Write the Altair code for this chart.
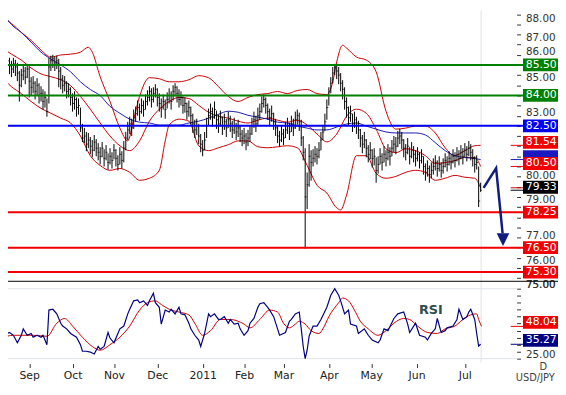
import json
import altair as alt
import pandas as pd

# ---------------- daily bars (bar index = trading day) ----------------
close = [
    85.60, 85.75, 85.50, 85.70, 85.45, 85.30, 85.55, 85.40, 85.10, 84.50,
    85.00, 85.20, 84.90, 85.30, 84.70, 84.40, 84.60, 84.20, 84.50, 84.00,
    84.10, 83.70, 83.90, 83.20, 85.40, 85.70, 85.80, 85.60, 85.70, 85.20,
    84.80, 84.50, 84.60, 84.20, 84.30, 83.90, 83.60, 83.80, 83.40, 83.50,
    82.40, 81.90, 82.00, 81.60, 81.80, 81.50, 81.30, 81.70, 81.40, 81.20,
    81.00, 81.40, 80.90, 81.20, 80.70, 81.00, 80.80, 81.30, 80.90, 80.60,
    81.10, 80.80, 81.40, 81.90, 82.30, 82.60, 82.40, 82.90, 83.10, 83.40,
    83.20, 83.50, 83.30, 83.70, 83.90, 84.20, 83.80, 84.10, 84.30, 83.90,
    83.60, 83.40, 83.70, 83.30, 83.80, 84.00, 83.70, 84.20, 84.40, 84.10,
    83.80, 83.90, 83.50, 83.60, 83.20, 83.40, 83.00, 82.60, 82.30, 82.50,
    82.00, 81.60, 81.30, 81.80, 82.50, 83.00, 83.20, 82.90, 83.30, 82.80,
    82.60, 82.90, 82.50, 82.70, 82.40, 82.80, 82.60, 82.30, 82.50, 82.20,
    82.40, 82.10, 81.90, 82.00, 81.70, 81.90, 82.10, 82.50, 82.80, 82.60,
    83.00, 83.20, 83.60, 83.80, 83.50, 83.20, 82.90, 83.10, 82.70, 82.40,
    82.00, 81.80, 82.10, 81.90, 82.30, 82.50, 82.20, 82.60, 82.40, 82.80,
    83.00, 82.70, 81.90, 81.20, 79.00, 79.60, 81.00, 80.70, 80.90, 81.10,
    81.00, 81.30, 81.80, 82.20, 82.70, 83.40, 84.00, 84.60, 85.10, 85.40,
    85.20, 85.00, 84.60, 84.30, 83.70, 83.40, 82.90, 83.10, 82.60, 82.80,
    82.50, 82.30, 81.90, 81.60, 81.80, 81.40, 81.10, 81.30, 80.90, 81.00,
    80.30, 80.60, 81.00, 80.70, 81.10, 80.90, 81.20, 81.00, 81.40, 81.60,
    81.50, 81.90, 82.00, 81.80, 81.40, 81.20, 81.50, 81.00, 81.30, 81.10,
    80.90, 81.10, 80.80, 81.00, 80.50, 80.20, 80.40, 80.10, 80.30, 80.50,
    80.70, 80.40, 80.60, 80.30, 80.50, 80.80, 80.60, 80.90, 80.70, 81.00,
    80.80, 81.10, 80.90, 81.20, 81.00, 81.30, 81.10, 81.40, 81.20, 80.90,
    80.60, 80.70, 78.80, 79.33,
]
high = [
    86.10, 86.00, 85.90, 86.05, 85.85, 85.70, 85.85, 85.75, 85.60, 85.20,
    85.30, 85.50, 85.40, 85.55, 85.40, 84.90, 84.95, 84.70, 84.85, 84.60,
    84.45, 84.30, 84.20, 83.85, 85.85, 85.95, 86.00, 85.90, 85.95, 85.80,
    85.40, 85.00, 84.95, 84.70, 84.60, 84.40, 84.10, 84.20, 83.90, 83.85,
    83.40, 82.60, 82.40, 82.20, 82.15, 81.95, 81.80, 82.05, 81.85, 81.65,
    81.45, 81.70, 81.35, 81.55, 81.15, 81.40, 81.20, 81.60, 81.35, 81.05,
    81.45, 81.25, 81.75, 82.20, 82.70, 82.95, 82.85, 83.30, 83.45, 83.75,
    83.60, 83.85, 83.75, 84.05, 84.25, 84.45, 84.35, 84.40, 84.55, 84.35,
    84.10, 83.85, 84.05, 83.80, 84.15, 84.35, 84.20, 84.50, 84.60, 84.45,
    84.30, 84.20, 83.95, 83.90, 83.65, 83.75, 83.45, 83.10, 82.80, 82.85,
    82.60, 82.10, 81.80, 82.20, 82.90, 83.35, 83.60, 83.40, 83.70, 83.25,
    83.05, 83.25, 82.95, 83.10, 82.85, 83.20, 83.00, 82.75, 82.90, 82.65,
    82.80, 82.55, 82.30, 82.40, 82.15, 82.30, 82.50, 82.90, 83.20, 83.00,
    83.40, 83.60, 83.95, 84.05, 83.90, 83.60, 83.35, 83.50, 83.15, 82.85,
    82.50, 82.25, 82.50, 82.35, 82.70, 82.90, 82.65, 83.00, 82.85, 83.20,
    83.30, 83.15, 82.80, 82.00, 81.40, 80.20, 81.60, 81.30, 81.35, 81.50,
    81.40, 81.70, 82.20, 82.55, 83.10, 83.80, 84.40, 84.90, 85.40, 85.55,
    85.50, 85.40, 85.10, 84.75, 84.40, 83.90, 83.45, 83.50, 83.10, 83.20,
    82.95, 82.75, 82.35, 82.05, 82.20, 81.85, 81.55, 81.70, 81.35, 81.40,
    80.95, 81.00, 81.40, 81.15, 81.50, 81.30, 81.60, 81.45, 81.80, 82.00,
    81.95, 82.25, 82.35, 82.20, 81.85, 81.60, 81.90, 81.45, 81.70, 81.50,
    81.30, 81.45, 81.20, 81.35, 81.00, 80.65, 80.80, 80.55, 80.70, 80.90,
    81.05, 80.80, 81.00, 80.70, 80.90, 81.15, 81.00, 81.25, 81.10, 81.35,
    81.20, 81.45, 81.30, 81.55, 81.40, 81.65, 81.50, 81.75, 81.60, 81.35,
    81.00, 81.05, 80.50, 79.70,
]
low = [
    85.20, 85.30, 85.10, 85.25, 85.05, 84.90, 85.10, 84.95, 84.70, 83.70,
    84.40, 84.75, 84.55, 84.85, 83.90, 84.00, 84.10, 83.80, 84.00, 83.60,
    83.70, 83.30, 83.40, 82.95, 83.60, 85.20, 85.35, 85.20, 85.30, 84.40,
    84.30, 84.10, 84.20, 83.85, 83.90, 83.50, 83.20, 83.30, 82.95, 83.05,
    82.20, 81.70, 81.65, 81.25, 81.40, 81.10, 80.95, 81.25, 81.00, 80.80,
    80.60, 80.95, 80.50, 80.80, 80.35, 80.60, 80.40, 80.85, 80.50, 80.30,
    80.60, 80.40, 80.70, 81.30, 81.80, 82.10, 82.00, 82.35, 82.70, 83.00,
    82.75, 83.10, 82.95, 83.30, 83.50, 83.70, 83.40, 83.65, 83.90, 83.45,
    83.20, 82.90, 83.30, 82.85, 83.35, 83.60, 83.30, 83.75, 83.95, 83.65,
    83.40, 83.50, 83.10, 83.15, 82.80, 82.95, 82.55, 82.15, 81.90, 82.05,
    81.60, 81.20, 81.00, 81.30, 81.90, 82.50, 82.80, 82.45, 82.85, 82.35,
    82.15, 82.50, 82.05, 82.30, 81.95, 82.40, 82.20, 81.90, 82.10, 81.80,
    81.95, 81.70, 81.50, 81.60, 81.30, 81.50, 81.70, 82.05, 82.40, 82.20,
    82.55, 82.80, 83.15, 83.40, 83.10, 82.80, 82.50, 82.70, 82.30, 82.00,
    81.65, 81.45, 81.70, 81.55, 81.90, 82.10, 81.80, 82.20, 82.00, 82.35,
    82.55, 82.25, 81.50, 80.80, 76.45, 78.40, 79.50, 79.80, 80.50, 80.70,
    80.60, 80.90, 81.30, 81.80, 82.25, 82.80, 83.50, 84.10, 84.60, 85.00,
    84.80, 84.55, 84.20, 83.80, 83.30, 82.90, 82.50, 82.70, 82.20, 82.40,
    82.10, 81.85, 81.45, 81.15, 81.40, 80.95, 80.70, 80.85, 80.45, 80.55,
    79.70, 80.15, 80.60, 80.30, 80.70, 80.50, 80.80, 80.55, 81.00, 81.20,
    81.10, 81.45, 81.60, 81.35, 80.95, 80.80, 81.10, 80.60, 80.90, 80.70,
    80.50, 80.75, 80.40, 80.65, 80.10, 79.80, 80.00, 79.70, 79.90, 80.10,
    80.30, 80.00, 80.25, 79.95, 80.15, 80.45, 80.25, 80.55, 80.35, 80.65,
    80.45, 80.75, 80.55, 80.85, 80.60, 80.95, 80.75, 81.00, 80.80, 80.50,
    80.20, 80.35, 78.50, 79.25,
]
bar = list(range(len(close)))

# ---------------- month ticks (bar index of the month start) ----------------
month_names = ["Sep", "Oct", "Nov", "Dec", "2011", "Feb", "Mar", "Apr", "May", "Jun", "Jul"]
month_pos = [14, 36, 57, 79, 102, 123, 143, 166, 187.5, 210.5, 235]

# ---------------- Bollinger bands & moving average ----------------
bb_up_i = [0, 5, 10, 15, 20, 25, 30, 35, 40, 44, 46, 50, 55, 60, 64, 67, 70, 75, 80, 85, 90, 95,
           100, 105, 110, 115, 120, 125, 130, 135, 140, 145, 150, 155, 160, 165, 168, 170, 173,
           175, 180, 185, 190, 195, 200, 205, 210, 215, 220, 225, 230, 235, 240, 243]
bb_up_v = [87.83, 87.54, 87.10, 86.71, 86.23, 85.89, 85.99, 86.03, 86.13, 86.37, 86.13, 84.92,
           83.70, 82.39, 81.76, 82.83, 83.95, 84.87, 84.82, 84.67, 84.67, 84.77, 84.97, 84.87,
           84.43, 83.95, 83.70, 83.90, 84.04, 84.09, 84.19, 84.09, 84.24, 84.29, 84.09, 84.04,
           84.67, 85.65, 86.47, 86.33, 85.89, 85.74, 85.16, 83.22, 82.34, 82.39, 82.49, 82.49,
           82.15, 81.42, 81.03, 81.28, 81.52, 81.54]
bb_mid_i = [0, 5, 10, 15, 20, 25, 30, 35, 40, 45, 50, 55, 60, 65, 70, 75, 80, 85, 90, 95, 100,
            105, 110, 115, 120, 125, 130, 135, 140, 145, 150, 155, 160, 165, 170, 175, 180, 185,
            190, 195, 200, 205, 210, 215, 220, 225, 230, 235, 240, 243]
bb_mid_v = [86.37, 86.03, 85.74, 85.35, 85.06, 84.92, 84.77, 84.48, 83.95, 83.32, 82.64, 82.00,
            81.52, 81.28, 81.76, 82.73, 83.32, 83.70, 83.90, 83.85, 83.51, 83.17, 82.98, 82.88,
            82.73, 82.64, 82.78, 82.88, 82.78, 82.68, 82.78, 82.54, 82.10, 81.71, 82.10, 82.98,
            83.32, 83.12, 82.34, 81.37, 81.18, 81.37, 81.28, 81.03, 80.65, 80.69, 80.79, 80.94,
            80.94, 80.50]
bb_low_i = [0, 5, 10, 15, 20, 25, 30, 35, 40, 45, 50, 55, 60, 65, 70, 75, 80, 83, 85, 90, 95,
            100, 105, 110, 115, 120, 125, 130, 135, 140, 145, 150, 155, 160, 165, 170, 172, 175,
            180, 185, 190, 195, 200, 205, 210, 215, 220, 225, 230, 235, 240, 243]
bb_low_v = [84.92, 84.43, 84.09, 83.70, 83.36, 83.12, 82.88, 82.64, 82.00, 81.03, 80.55, 80.31,
            80.40, 80.21, 79.82, 79.92, 80.31, 81.76, 82.54, 82.83, 82.73, 81.52, 81.28, 81.42,
            81.57, 81.76, 81.76, 81.47, 81.42, 81.47, 81.52, 81.42, 80.55, 79.58, 79.19, 78.46,
            78.36, 79.09, 81.03, 81.03, 80.16, 79.92, 80.01, 80.21, 80.31, 80.21, 79.82, 79.92,
            80.06, 79.97, 79.92, 79.45]
ma_i = [0, 5, 10, 15, 20, 25, 30, 35, 40, 45, 50, 55, 60, 65, 70, 75, 80, 85, 90, 95, 100, 105,
        110, 115, 120, 125, 130, 135, 140, 145, 150, 155, 160, 165, 170, 175, 180, 185, 190,
        195, 200, 205, 210, 215, 220, 225, 230, 235, 240, 243]
ma_v = [88.17, 87.49, 87.10, 86.62, 86.13, 85.79, 85.50, 85.16, 84.67, 84.29, 83.99, 83.46,
        83.12, 82.83, 82.68, 82.64, 82.54, 82.54, 82.54, 82.64, 82.73, 82.88, 83.07, 83.22,
        83.17, 83.02, 82.93, 82.83, 82.68, 82.64, 82.49, 82.39, 82.30, 82.30, 82.44, 82.59,
        82.64, 82.49, 82.34, 82.20, 82.15, 82.15, 82.15, 82.05, 81.67, 81.28, 81.03, 80.94,
        80.89, 80.84]

# ---------------- RSI and its average ----------------
rsi_i = [0, 1, 3, 4, 6, 8, 10, 11, 13, 15, 16, 18, 20, 21, 23, 24, 26, 28, 30, 31, 33, 35, 38,
         40, 41, 43, 45, 47, 49, 50, 52, 54, 55, 57, 59, 60, 62, 64, 65, 67, 69, 70, 72, 74, 75,
         77, 78, 80, 81, 83, 85, 86, 88, 90, 91, 93, 95, 96, 98, 100, 101, 103, 105, 106, 108,
         110, 111, 113, 115, 116, 118, 120, 121, 123, 125, 126, 128, 130, 131, 133, 135, 136,
         138, 140, 141, 144, 146, 147, 149, 151, 152, 153, 154, 155, 156, 158, 160, 162, 165,
         167, 169, 171, 172, 174, 176, 177, 180, 181, 184, 186, 188, 191, 192, 194, 196, 199,
         201, 204, 206, 207, 210, 212, 215, 216, 218, 220, 221, 223, 225, 226, 229, 231, 232,
         234, 236, 237, 238, 240, 241, 242, 243]
rsi_v = [45.0, 47.0, 43.0, 43.7, 41.7, 36.3, 41.7, 46.3, 41.7, 43.0, 40.3, 41.7, 40.3, 41.7,
         35.0, 59.7, 60.3, 57.0, 50.3, 48.3, 46.3, 43.0, 40.3, 35.0, 30.3, 30.3, 29.7, 28.3,
         33.7, 31.7, 33.7, 43.7, 39.7, 36.3, 43.0, 46.3, 48.3, 57.0, 60.3, 66.3, 67.0, 65.0,
         66.3, 63.0, 66.3, 71.7, 65.0, 61.7, 49.7, 59.7, 58.3, 60.3, 57.0, 61.7, 57.0, 56.3,
         50.3, 46.3, 41.7, 38.3, 33.7, 43.0, 57.0, 55.0, 57.0, 53.0, 53.0, 55.0, 50.3, 53.0,
         49.7, 50.3, 46.3, 41.7, 45.0, 50.3, 53.7, 61.7, 64.3, 65.0, 61.7, 59.7, 55.0, 46.3,
         41.7, 43.7, 51.7, 53.0, 57.0, 58.3, 46.3, 33.7, 25.0, 31.0, 41.0, 48.3, 48.3, 53.0,
         61.7, 70.3, 75.0, 70.3, 66.3, 57.0, 59.7, 49.7, 48.3, 43.0, 46.3, 41.7, 38.3, 36.3,
         38.3, 46.3, 45.0, 53.7, 57.0, 58.3, 49.7, 43.7, 50.3, 41.7, 40.3, 38.3, 43.0, 46.3,
         53.7, 43.7, 45.0, 47.0, 48.3, 53.0, 60.3, 53.0, 55.0, 58.3, 60.3, 53.0, 43.0, 34.0,
         35.27]
rsima_i = [0, 6, 16, 23, 28, 32, 36, 41, 46, 50, 55, 60, 65, 70, 74, 78, 81, 85, 90, 95, 98,
           102, 106, 111, 116, 123, 126, 131, 136, 140, 143, 146, 149, 151, 154, 157, 161, 163,
           166, 171, 173, 176, 179, 182, 186, 191, 195, 199, 204, 207, 211, 216, 221, 225, 230,
           234, 238, 241, 242, 243.5]
rsima_v = [39.7, 41.7, 41.7, 41.0, 50.3, 53.7, 48.3, 40.3, 33.7, 31.0, 35.0, 40.3, 48.3, 59.7,
           65.0, 66.3, 63.7, 60.3, 58.3, 56.3, 50.3, 41.7, 45.0, 53.0, 53.0, 49.7, 47.0, 53.0,
           59.7, 58.3, 50.3, 47.0, 49.7, 51.7, 49.7, 45.0, 43.0, 46.3, 55.0, 65.0, 68.3, 66.3,
           59.7, 51.7, 46.3, 41.7, 45.0, 50.3, 53.7, 53.0, 48.3, 43.7, 43.0, 46.3, 48.3, 53.0,
           56.3, 57.0, 53.0, 48.04]

# ---------------- support / resistance levels and last values ----------------
levels = [85.50, 84.00, 82.50, 78.25, 76.50, 75.30]
level_colors = ["#008000", "#008000", "#0000f0", "#f00000", "#f00000", "#f00000"]
last_vals = [79.45, 80.84, 80.50, 81.54, 79.33]          # lower BB, MA, mid BB, upper BB, close
last_colors = ["#d00000", "#1a1ac0", "#f00000", "#f00000", "#000000"]
last_boxed = [False, True, True, True, True]
last_text = ["", "", "80.50", "81.54", "79.33"]           # MA box text is hidden in the original
rsi_last = [48.04, 35.27]
rsi_last_colors = ["#f00000", "#000080"]

arrow_i = [244.5, 250.85, 254.15]
arrow_p = [79.45, 80.42, 77.2]
arrow_head_i = [254.35]
arrow_head_p = [76.9]
today_i = [243.25]

price_ticks = [75.0, 75.5, 76.0, 76.5, 77.0, 77.5, 78.0, 78.5, 79.0, 79.5, 80.0, 80.5, 81.0,
               81.5, 82.0, 82.5, 83.0, 83.5, 84.0, 84.5, 85.0, 85.5, 86.0, 86.5, 87.0, 87.5, 88.0]
price_labelled = [75, 76, 77, 79, 80, 83, 85, 86, 87, 88]   # the others sit under value boxes
# small vertical nudges of axis labels (px) so they sit between the value boxes, as drawn
label_nudge_v = [88, 87, 86, 85, 83, 80, 79, 77, 76, 75]
label_nudge_px = [4, 3, -3, 2, -3, -1, 3, -2, 2.5, 7]
rsi_ticks = [25, 30, 35, 40, 45, 50, 55, 60, 65, 70, 75]
rsi_labelled = [25, 75]
rsi_grid = [25, 75]

# ---------------- scales & axes ----------------
FONT = "DejaVu Sans"
W, H = 516, 357
XS = alt.Scale(domain=[3.25, 261.25], nice=False, zero=False)
PS = alt.Scale(domain=[74.87, 88.17], range=[274, 0], nice=False, zero=False)
RS = alt.Scale(domain=[22.18, 79.93], range=[357, 275], nice=False, zero=False)

BOX = "M-1,-0.361L1,-0.361L1,0.361L-1,0.361Z"
BOX_UP3 = "M-1,-0.528L1,-0.528L1,0.194L-1,0.194Z"
BOX_UP4 = "M-1,-0.583L1,-0.583L1,0.139L-1,0.139Z"

price_axis = alt.Axis(
    orient="right", values=price_ticks, domain=False, grid=False,
    tickSize=4, tickColor="#333333", labelColor="#333333", labelFont=FONT,
    labelFontSize=10.5, labelPadding=5, labelOverlap=False, title=None,
    labelOffset={"condition": [{"test": f"datum.value == {v}", "value": px}
                               for v, px in zip(label_nudge_v, label_nudge_px)],
                 "value": 0},
    labelExpr="indexof(" + json.dumps(price_labelled) + ", datum.value) >= 0 ? format(datum.value, '.2f') : ''")
rsi_axis = alt.Axis(
    orient="right", values=rsi_ticks, domain=False, grid=False,
    tickSize=4, tickColor="#333333", labelColor="#333333", labelFont=FONT,
    labelFontSize=10.5, labelPadding=5, labelOverlap=False, title=None, labelOffset=-4,
    labelExpr="indexof(" + json.dumps(rsi_labelled) + ", datum.value) >= 0 ? format(datum.value, '.2f') : ''")
x_axis = alt.Axis(
    orient="bottom", values=month_pos, domain=False, grid=False, tickSize=4,
    offset=1, tickColor="#333333", labelColor="#222222", labelFont=FONT,
    labelFontSize=11, labelPadding=2, labelOverlap=False, labelFlush=False, title=None,
    labelExpr=json.dumps(month_names) + "[indexof(" + json.dumps(month_pos) + ", datum.value)]")


def X(f):
    return alt.X(f, scale=XS, axis=x_axis)


def YP(f):
    return alt.Y(f, scale=PS, axis=price_axis)


def YR(f):
    return alt.Y(f, scale=RS, axis=rsi_axis)


bars_df = pd.DataFrame({"i": bar, "h": high, "l": low, "c": close})
bands_df = pd.concat([
    pd.DataFrame({"i": bb_up_i, "v": bb_up_v, "s": "up"}),
    pd.DataFrame({"i": bb_mid_i, "v": bb_mid_v, "s": "mid"}),
    pd.DataFrame({"i": bb_low_i, "v": bb_low_v, "s": "low"}),
])
ma_df = pd.DataFrame({"i": ma_i, "v": ma_v})
lev_df = pd.DataFrame({"v": levels, "col": level_colors, "t": [f"{v:.2f}" for v in levels]})
last_df = pd.DataFrame({"v": last_vals, "col": last_colors, "t": last_text, "boxed": last_boxed})
boxed_df = last_df[last_df["boxed"]]
text_df = last_df[last_df["t"] != ""]
rsi_df = pd.DataFrame({"i": rsi_i, "v": rsi_v})
rsima_df = pd.DataFrame({"i": rsima_i, "v": rsima_v})
rsil_df = pd.DataFrame({"v": rsi_last, "col": rsi_last_colors, "t": [f"{v:.2f}" for v in rsi_last]})
arrow_df = pd.DataFrame({"i": arrow_i, "p": arrow_p, "o": [0, 1, 2]})
head_df = pd.DataFrame({"i": arrow_head_i, "p": arrow_head_p})
today_df = pd.DataFrame({"i": today_i})

# ---------------- price panel ----------------
today = alt.Chart(today_df).mark_rule(color="#dde3ea", strokeWidth=1).encode(
    x=X("i:Q"), y=alt.value(0), y2=alt.value(H))
bands = alt.Chart(bands_df).mark_line(color="#c80000", strokeWidth=1, interpolate="monotone").encode(
    x=X("i:Q"), y=YP("v:Q"), detail="s:N")
ma = alt.Chart(ma_df).mark_line(color="#1a1ab4", strokeWidth=1, interpolate="monotone").encode(
    x=X("i:Q"), y=YP("v:Q"))
bars = alt.Chart(bars_df).mark_rule(color="black", strokeWidth=1).encode(
    x=X("i:Q"), y=YP("l:Q"), y2="h:Q")
ticks = alt.Chart(bars_df).mark_tick(color="black", orient="horizontal", size=2, thickness=1,
                                     xOffset=0.5).encode(
    x=X("i:Q"), y=YP("c:Q"))
lev_lines = alt.Chart(lev_df).mark_rule(strokeWidth=2).encode(
    y=YP("v:Q"), x=alt.value(0), x2=alt.value(523), color=alt.Color("col:N", scale=None))
sep = alt.Chart(today_df).mark_rule(color="black", strokeWidth=1).encode(
    y=alt.value(274.5), x=alt.value(0), x2=alt.value(558))
stubs = alt.Chart(last_df).mark_rule(strokeWidth=1).encode(
    y=YP("v:Q"), x=alt.value(510), x2=alt.value(523), color=alt.Color("col:N", scale=None))
lev_box = alt.Chart(lev_df).mark_point(shape=BOX, size=1296, filled=True, opacity=1,
                                       strokeWidth=0).encode(
    y=YP("v:Q"), x=alt.value(540.5), color=alt.Color("col:N", scale=None))
lev_txt = alt.Chart(lev_df).mark_text(color="white", font=FONT, fontSize=11, align="center",
                                      baseline="middle").encode(
    y=YP("v:Q"), x=alt.value(541), text="t:N")
last_box = alt.Chart(boxed_df).mark_point(shape=BOX_UP3, size=1296, filled=True, opacity=1,
                                          strokeWidth=0).encode(
    y=YP("v:Q"), x=alt.value(540.5), color=alt.Color("col:N", scale=None))
last_txt = alt.Chart(text_df).mark_text(color="white", font=FONT, fontSize=11, align="center",
                                        baseline="middle", dy=-3).encode(
    y=YP("v:Q"), x=alt.value(541), text="t:N")
arrow = alt.Chart(arrow_df).mark_line(color="#101c80", strokeWidth=2.5).encode(
    x=X("i:Q"), y=YP("p:Q"), order="o:Q")
head = alt.Chart(head_df).mark_point(shape="M-1,-1L1,-1L0,1Z", size=165, filled=True, opacity=1,
                                     color="#101c80", strokeWidth=0).encode(
    x=X("i:Q"), y=YP("p:Q"))

price_layer = alt.layer(today, bands, ma, bars, ticks, lev_lines, sep, stubs, lev_box, lev_txt,
                        last_box, last_txt, arrow, head)

# ---------------- RSI panel ----------------
grid = alt.Chart(pd.DataFrame({"g": rsi_grid})).mark_rule(color="#dfe4ea", strokeWidth=1).encode(
    y=YR("g:Q"), x=alt.value(0), x2=alt.value(517))
rsima = alt.Chart(rsima_df).mark_line(color="#cc0000", strokeWidth=1, interpolate="monotone").encode(
    x=X("i:Q"), y=YR("v:Q"))
rsi = alt.Chart(rsi_df).mark_line(color="#000080", strokeWidth=1.2).encode(
    x=X("i:Q"), y=YR("v:Q"))
rsi_stub = alt.Chart(rsil_df).mark_rule(strokeWidth=1).encode(
    y=YR("v:Q"), x=alt.value(510), x2=alt.value(523), color=alt.Color("col:N", scale=None))
rsi_box = alt.Chart(rsil_df).mark_point(shape=BOX_UP4, size=1296, filled=True, opacity=1,
                                        strokeWidth=0).encode(
    y=YR("v:Q"), x=alt.value(540.5), color=alt.Color("col:N", scale=None))
rsi_txt = alt.Chart(rsil_df).mark_text(color="white", font=FONT, fontSize=11, align="center",
                                       baseline="middle", dy=-4).encode(
    y=YR("v:Q"), x=alt.value(541), text="t:N")
rsi_name = alt.Chart(pd.DataFrame({"t": ["RSI"]})).mark_text(
    color="#2f4f4f", font=FONT, fontSize=13, fontWeight="bold", align="center",
    baseline="middle").encode(text="t:N", x=alt.value(429), y=alt.value(304))
period = alt.Chart(pd.DataFrame({"t": ["D"]})).mark_text(
    color="#444444", font=FONT, fontSize=10, align="center", baseline="middle").encode(
    text="t:N", x=alt.value(543), y=alt.value(361.5))
symbol = alt.Chart(pd.DataFrame({"t": ["USD/JPY"]})).mark_text(
    color="#444444", font=FONT, fontSize=10, align="center", baseline="middle").encode(
    text="t:N", x=alt.value(535), y=alt.value(372.5))

rsi_layer = alt.layer(grid, rsima, rsi, rsi_stub, rsi_box, rsi_txt, rsi_name, period, symbol)

chart = alt.layer(price_layer, rsi_layer).resolve_scale(y="independent").properties(
    width=W, height=H,
    autosize=alt.AutoSizeParams(type="none"),
    padding={"left": 0, "top": 0, "right": 42, "bottom": 22},
    background="white",
).configure_view(strokeWidth=0)

chart.save("out.html", embed_options={"renderer": "svg", "actions": False})
